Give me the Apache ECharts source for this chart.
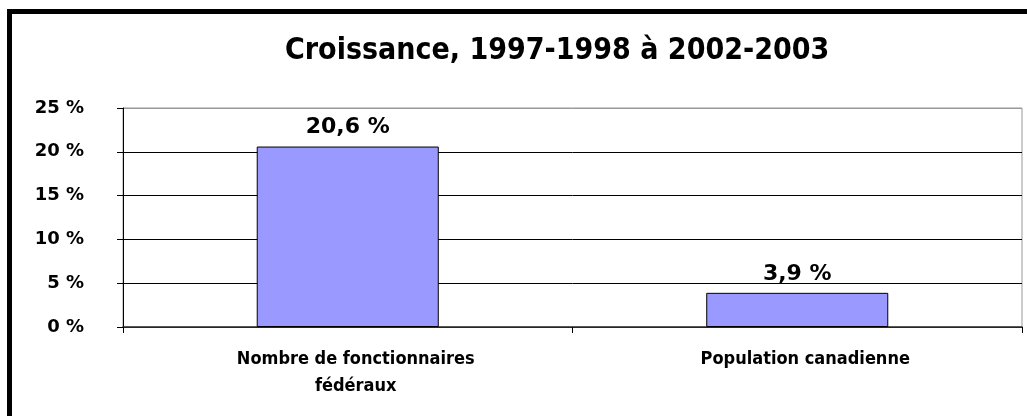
<!DOCTYPE html>
<html>
<head>
<meta charset="utf-8">
<script src="https://cdn.jsdelivr.net/npm/echarts@6/dist/echarts.min.js"></script>
<style>
  html, body { margin: 0; padding: 0; background: #fff; }
  #chart { width: 1027px; height: 416px; }
</style>
</head>
<body>
<div id="chart"></div>
<script>
// données
const categories = ['Nombre de fonctionnaires\nfédéraux', 'Population canadienne']
const values = [20.6, 3.9]
const valueLabels = ['20,6 %', '3,9 %']
const yTicks = [0, 5, 10, 15, 20, 25]

const chart = echarts.init(document.getElementById('chart'))

const option = {
    backgroundColor: '#fff',
    animation: false,
    title: {
        text: 'Croissance, 1997-1998 à 2002-2003',
        left: 280,
        top: 31,
        textStyle: {
            fontFamily: '"DejaVu Sans Condensed", "DejaVu Sans", sans-serif',
            fontWeight: 'bold',
            fontSize: 30,
            color: '#000',
        },
    },
    // cadre noir (haut et gauche seulement, image rognée)
    graphic: [
        { type: 'rect', shape: { x: 7, y: 9, width: 1020, height: 5 }, style: { fill: '#000' } },
        { type: 'rect', shape: { x: 7, y: 9, width: 5, height: 407 }, style: { fill: '#000' } },
    ],
    grid: {
        left: 123,
        right: 5,
        top: 108,
        bottom: 89,
        show: true,
        borderColor: '#999',
        borderWidth: 1,
    },
    xAxis: {
        type: 'category',
        data: categories,
        axisLine: { lineStyle: { color: '#333', width: 1.5 } },
        axisTick: { show: true, length: 6, lineStyle: { color: '#000' } },
        axisLabel: {
            margin: 19,
            interval: 0,
            padding: [0, 0, 0, 16],
            fontFamily: '"DejaVu Sans Condensed", "DejaVu Sans", sans-serif',
            fontWeight: 'bold',
            fontSize: 18,
            lineHeight: 27,
            color: '#000',
        },
    },
    yAxis: {
        type: 'value',
        min: yTicks[0],
        max: yTicks[yTicks.length - 1],
        interval: 5,
        axisLine: { show: true, lineStyle: { color: '#000' } },
        axisTick: { show: true, length: 6, lineStyle: { color: '#000' } },
        axisLabel: {
            margin: 39,
            formatter: '{value} %',
            fontFamily: '"DejaVu Sans", sans-serif',
            fontWeight: 'bold',
            fontSize: 18,
            color: '#000',
        },
        splitLine: {
            lineStyle: {
                color: ['#000', '#000', '#000', '#000', '#000', '#999'],
                width: 1,
            },
        },
    },
    series: [
        {
            type: 'bar',
            data: values,
            barWidth: '40.5%',
            itemStyle: {
                color: '#9999FF',
                borderColor: '#000',
                borderWidth: 1,
            },
            label: {
                show: true,
                position: 'top',
                distance: 8,
                formatter: p => valueLabels[p.dataIndex],
                fontFamily: '"DejaVu Sans", sans-serif',
                fontWeight: 'bold',
                fontSize: 22,
                color: '#000',
            },
        },
    ],
}

chart.setOption(option)
</script>
</body>
</html>
